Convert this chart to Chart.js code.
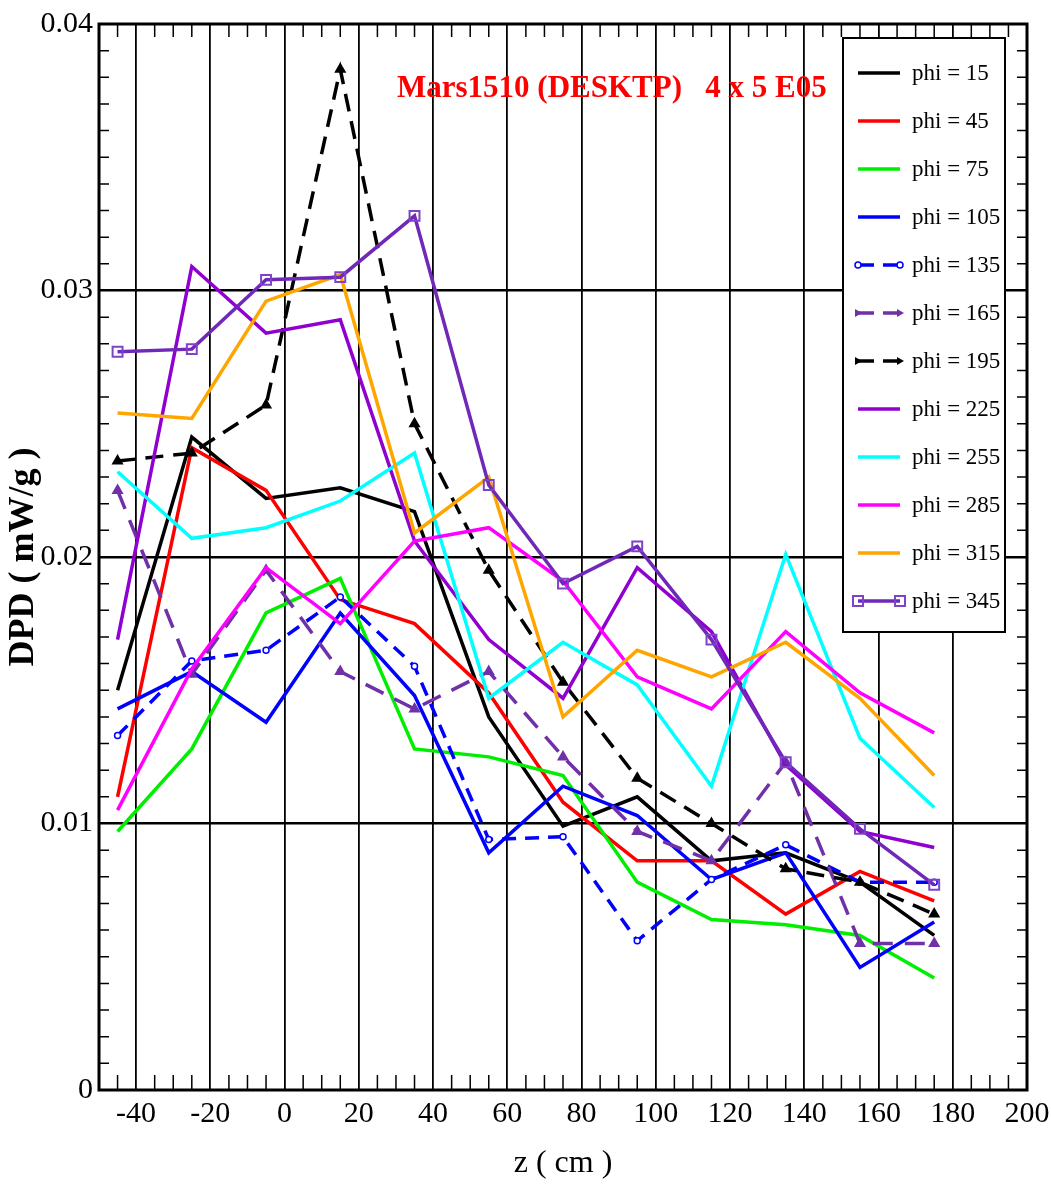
<!DOCTYPE html>
<html>
<head>
<meta charset="utf-8">
<script src="https://cdn.jsdelivr.net/npm/chart.js@4.4.0/dist/chart.umd.min.js"></script>
<style>
body { margin: 0; background: #fff; }
canvas { display: block; }
</style>
</head>
<body>
<canvas id="dpd" width="1051" height="1185"></canvas>
<script>
// z positions (cm) of the measurement points
const zValues = [-45, -25, -5, 15, 35, 55, 75, 95, 115, 135, 155, 175];

// DPD (mW/g) per phi angle
const phi15  = [0.0150, 0.0245, 0.0222, 0.0226, 0.0217, 0.0140, 0.0099, 0.0110, 0.0086, 0.0089, 0.0078, 0.0058];
const phi45  = [0.0110, 0.0241, 0.0225, 0.0184, 0.0175, 0.0149, 0.0108, 0.0086, 0.0086, 0.0066, 0.0082, 0.0071];
const phi75  = [0.0097, 0.0128, 0.0179, 0.0192, 0.0128, 0.0125, 0.0118, 0.0078, 0.0064, 0.0062, 0.0058, 0.0042];
const phi105 = [0.0143, 0.0157, 0.0138, 0.0179, 0.0148, 0.0089, 0.0114, 0.0103, 0.0079, 0.0089, 0.0046, 0.0063];
const phi135 = [0.0133, 0.0161, 0.0165, 0.0185, 0.0159, 0.0094, 0.0095, 0.0056, 0.0079, 0.0092, 0.0078, 0.0078];
const phi165 = [0.0225, 0.0156, 0.0195, 0.0157, 0.0143, 0.0157, 0.0125, 0.0097, 0.0086, 0.0123, 0.0055, 0.0055];
const phi195 = [0.0236, 0.0239, 0.0257, 0.0383, 0.0250, 0.0195, 0.0153, 0.0117, 0.0100, 0.0083, 0.0078, 0.0066];
const phi225 = [0.0169, 0.0309, 0.0284, 0.0289, 0.0206, 0.0169, 0.0147, 0.0196, 0.0172, 0.0122, 0.0097, 0.0091];
const phi255 = [0.0232, 0.0207, 0.0211, 0.0221, 0.0239, 0.0147, 0.0168, 0.0152, 0.0114, 0.0201, 0.0132, 0.0106];
const phi285 = [0.0105, 0.0158, 0.0196, 0.0175, 0.0206, 0.0211, 0.0191, 0.0155, 0.0143, 0.0172, 0.0149, 0.0134];
const phi315 = [0.0254, 0.0252, 0.0296, 0.0306, 0.0209, 0.0230, 0.0140, 0.0165, 0.0155, 0.0168, 0.0147, 0.0118];
const phi345 = [0.0277, 0.0278, 0.0304, 0.0305, 0.0328, 0.0227, 0.0190, 0.0204, 0.0169, 0.0123, 0.0098, 0.0077];

const xTickValues = [-40, -20, 0, 20, 40, 60, 80, 100, 120, 140, 160, 180, 200];
const yTickValues = [0, 0.01, 0.02, 0.03, 0.04];

const chartTitle = "Mars1510 (DESKTP)   4 x 5 E05";
const serif = "'Liberation Serif', 'DejaVu Serif', serif";

const toPoints = (arr) => zValues.map((z, i) => ({ x: z, y: arr[i] }));

const mkSet = (label, arr, color, extra) => Object.assign({
    label: label,
    data: toPoints(arr),
    borderColor: color,
    backgroundColor: color,
    borderWidth: 3.5,
    pointRadius: 0,
    tension: 0,
    fill: false
}, extra || {});

const datasets = [
    mkSet('phi = 15', phi15, '#000000'),
    mkSet('phi = 45', phi45, '#ff0000'),
    mkSet('phi = 75', phi75, '#00ee00'),
    mkSet('phi = 105', phi105, '#0000ff'),
    mkSet('phi = 135', phi135, '#0000ff', {
        borderDash: [14, 9], pointRadius: 3, pointStyle: 'circle',
        pointBackgroundColor: '#ffffff', pointBorderWidth: 1.5
    }),
    mkSet('phi = 165', phi165, '#7030a8', {
        borderDash: [20, 12], pointRadius: 3.5, pointStyle: 'triangle'
    }),
    mkSet('phi = 195', phi195, '#000000', {
        borderDash: [18, 10], pointRadius: 3.5, pointStyle: 'triangle'
    }),
    mkSet('phi = 225', phi225, '#9000d0'),
    mkSet('phi = 255', phi255, '#00ffff'),
    mkSet('phi = 285', phi285, '#ff00ff'),
    mkSet('phi = 315', phi315, '#ffa500'),
    mkSet('phi = 345', phi345, '#7028b8', {
        pointRadius: 7, pointStyle: 'rect', pointBackgroundColor: 'rgba(0,0,0,0)',
        pointBorderColor: '#7e44c8', pointBorderWidth: 2
    })
];
// later series drawn on top, like the original
datasets.forEach((d, i) => { d.order = datasets.length - i; });

// frame, inward minor ticks and the red caption
const framePlugin = {
    id: 'framePlugin',
    afterDraw(chart) {
        const ctx = chart.ctx;
        const a = chart.chartArea;
        const xs = chart.scales.x, ys = chart.scales.y;
        ctx.save();
        ctx.strokeStyle = '#000';
        ctx.lineWidth = 1.5;
        ctx.beginPath();
        for (let v = -45; v < 200; v += 5) {
            if (v % 20 === 0) continue;
            const px = xs.getPixelForValue(v);
            ctx.moveTo(px, a.bottom); ctx.lineTo(px, a.bottom - 15);
            ctx.moveTo(px, a.top); ctx.lineTo(px, a.top + 13);
        }
        for (let k = 1; k < 40; k++) {
            if (k % 10 === 0) continue;
            const py = ys.getPixelForValue(k / 1000);
            ctx.moveTo(a.left, py); ctx.lineTo(a.left + 10, py);
            ctx.moveTo(a.right, py); ctx.lineTo(a.right - 10, py);
        }
        ctx.stroke();
        ctx.lineWidth = 3;
        ctx.strokeRect(a.left, a.top, a.right - a.left, a.bottom - a.top);

        ctx.fillStyle = '#ff0000';
        ctx.font = 'bold 31px ' + serif;
        ctx.textBaseline = 'alphabetic';
        ctx.textAlign = 'left';
        ctx.fillText(chartTitle, a.left + 298, a.top + 73);
        ctx.restore();
    }
};

// legend box inside the plot, top right
const boxLegend = {
    id: 'boxLegend',
    afterDraw(chart) {
        const ctx = chart.ctx;
        const a = chart.chartArea;
        const x0 = a.right - 184, y0 = a.top + 14, w = 162, h = 594;
        ctx.save();
        ctx.fillStyle = '#fff';
        ctx.fillRect(x0, y0, w, h);
        ctx.strokeStyle = '#000';
        ctx.lineWidth = 2;
        ctx.strokeRect(x0, y0, w, h);
        chart.data.datasets.forEach((d, i) => {
            const y = y0 + 35 + i * 48;
            const xa = x0 + 15, xb = x0 + 57;
            ctx.strokeStyle = d.borderColor;
            ctx.fillStyle = d.borderColor;
            ctx.lineWidth = 3.5;
            ctx.setLineDash(d.borderDash ? [16, 9] : []);
            ctx.beginPath();
            ctx.moveTo(xa, y); ctx.lineTo(xb, y);
            ctx.stroke();
            ctx.setLineDash([]);
            if (d.pointStyle === 'circle') {
                ctx.lineWidth = 1.5;
                ctx.fillStyle = '#fff';
                [xa, xb].forEach(px => {
                    ctx.beginPath(); ctx.arc(px, y, 3, 0, Math.PI * 2); ctx.fill(); ctx.stroke();
                });
            } else if (d.pointStyle === 'triangle') {
                [xa, xb].forEach(px => {
                    ctx.beginPath();
                    ctx.moveTo(px + 4, y); ctx.lineTo(px - 3, y - 4); ctx.lineTo(px - 3, y + 4);
                    ctx.closePath(); ctx.fill();
                });
            } else if (d.pointStyle === 'rect') {
                ctx.strokeStyle = d.pointBorderColor;
                ctx.lineWidth = 2;
                [xa, xb].forEach(px => ctx.strokeRect(px - 5, y - 5, 10, 10));
            }
            ctx.fillStyle = '#000';
            ctx.font = '23px ' + serif;
            ctx.textBaseline = 'middle';
            ctx.fillText(d.label, x0 + 69, y + 1);
        });
        ctx.restore();
    }
};

const ctxDpd = document.getElementById('dpd');

new Chart(ctxDpd, {
    type: 'line',
    data: { datasets: datasets },
    plugins: [framePlugin, boxLegend],
    options: {
        responsive: false,
        animation: false,
        devicePixelRatio: 1,
        events: [],
        layout: { padding: { top: 24, right: 24, left: 0, bottom: 0 } },
        plugins: {
            legend: { display: false },
            tooltip: { enabled: false }
        },
        scales: {
            x: {
                type: 'linear',
                min: -50,
                max: 200,
                afterBuildTicks: (s) => { s.ticks = xTickValues.map(v => ({ value: v })); },
                afterFit: (s) => { s.height = 95; s.paddingLeft = 0; s.paddingRight = 0; },
                ticks: {
                    color: '#000',
                    font: { family: serif, size: 30 },
                    padding: 6,
                    maxRotation: 0,
                    autoSkip: false
                },
                grid: { color: '#000', lineWidth: 1.8, drawTicks: false },
                border: { display: false },
                title: {
                    display: true,
                    text: 'z ( cm )',
                    color: '#000',
                    font: { family: serif, size: 32 },
                    padding: { top: 0, bottom: 2 }
                }
            },
            y: {
                min: 0,
                max: 0.04,
                afterBuildTicks: (s) => { s.ticks = yTickValues.map(v => ({ value: v })); },
                afterFit: (s) => { s.width = 99; },
                ticks: {
                    color: '#000',
                    font: { family: serif, size: 30 },
                    padding: 6,
                    callback: (v) => v === 0 ? '0' : v.toFixed(2)
                },
                grid: {
                    color: (c) => (c.tick && c.tick.value > 0 && c.tick.value < 0.04) ? '#000' : 'rgba(0,0,0,0)',
                    lineWidth: 2.5,
                    drawTicks: false
                },
                border: { display: false },
                title: {
                    display: true,
                    text: 'DPD ( mW/g )',
                    color: '#000',
                    font: { family: serif, size: 36, weight: 'bold' },
                    padding: { top: 2, bottom: 4 }
                }
            }
        }
    }
});
</script>
</body>
</html>
